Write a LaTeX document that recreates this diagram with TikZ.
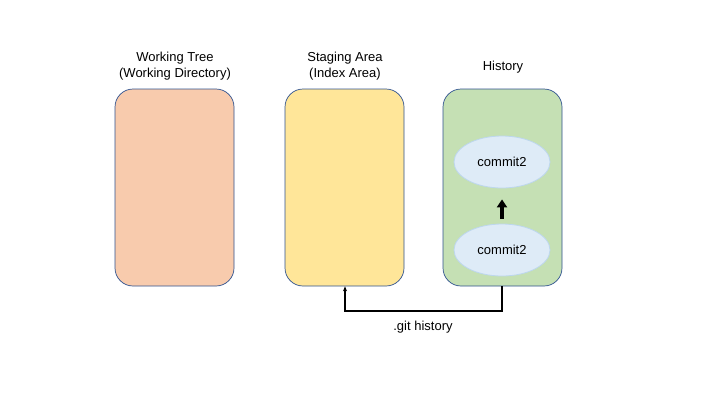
\documentclass[tikz,border=0pt]{standalone}
\usepackage{fontspec}
\setmainfont{Liberation Sans}
\usetikzlibrary{arrows.meta,shapes.geometric}
\definecolor{peach}{HTML}{F8CBAD}
\definecolor{yel}{HTML}{FFE699}
\definecolor{grn}{HTML}{C5E0B4}
\definecolor{ell}{HTML}{DEEBF7}
\definecolor{ellb}{HTML}{BDD7EE}
\definecolor{bord}{HTML}{2F528F}
\begin{document}
\begin{tikzpicture}[x=1pt,y=-1pt,
  area/.style={draw=bord,line width=0.7pt,rounded corners=18pt,minimum width=119pt,minimum height=197pt,inner sep=0pt},
  commit/.style={ellipse,draw=ellb,line width=0.8pt,fill=ell,minimum width=96pt,minimum height=52pt,inner sep=0pt,font=\fontsize{13}{15}\selectfont},
  title/.style={align=center,font=\fontsize{13}{16}\selectfont,inner sep=0pt},
  link/.style={draw=black,line width=1.3pt}]
\useasboundingbox (0,0) rectangle (720,405);
\node[area,fill=peach] (wt) at (174.5,187.5) {};
\node[area,fill=yel] (sa) at (344.5,187.5) {};
\node[area,fill=grn] (hi) at (502.5,187.5) {};
\node[title] (t1) at (175,66) {Working Tree\\(Working Directory)};
\node[title] (t2) at (345,66) {Staging Area\\(Index Area)};
\node[title] (t3) at (503,67) {History};
\node[commit] (c1) at (502,162) {commit2};
\node[commit] (c2) at (502,250) {commit2};
\draw[line width=4pt,-{Triangle[length=8pt,width=10pt]}] ([yshift=5pt]c2.north) -- ([yshift=-11pt]c1.south);
\coordinate (a) at (502,311);
\coordinate (b) at (345,311);
\draw[link,-{Stealth[length=5pt,width=4pt]}] (hi.south -| a) -- (a) -- (b) -- (sa.south -| b);
\node[font=\fontsize{13}{15}\selectfont,inner sep=0pt] (lbl) at (423,327) {.git history};
\end{tikzpicture}
\end{document}
